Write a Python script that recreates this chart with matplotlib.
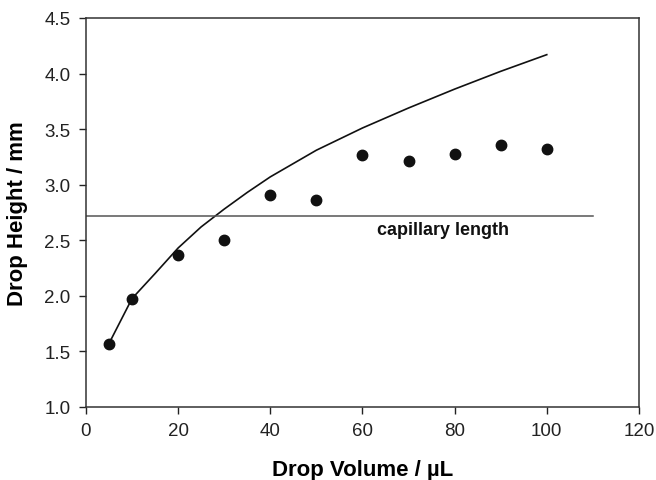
import matplotlib
matplotlib.use("Agg")
import matplotlib.pyplot as plt

plt.rcParams['font.family'] = ['Liberation Sans', 'DejaVu Sans']

volume = [5, 10, 20, 30, 40, 50, 60, 70, 80, 90, 100]
height_measured = [1.57, 1.975, 2.365, 2.50, 2.905, 2.86, 3.265, 3.21, 3.275, 3.355, 3.32]
model_volume = [5, 10, 15, 20, 25, 30, 35, 40, 45, 50, 60, 70, 80, 90, 100]
height_model = [1.57, 1.975, 2.20, 2.43, 2.62, 2.78, 2.93, 3.07, 3.19, 3.31, 3.51, 3.69, 3.86, 4.02, 4.17]
capillary_length = 2.72
capillary_x = [0, 110]

fig = plt.figure(figsize=(6.56, 4.81), dpi=100)
ax = fig.add_axes([0.131, 0.152, 0.843, 0.8085])

ax.plot(model_volume, height_model, color='#111111', lw=1.2)
ax.plot(volume, height_measured, 'o', color='#111111', ms=7.5, ls='none')
ax.plot(capillary_x, [capillary_length, capillary_length], color='#555555', lw=1.1)
ax.text(77.5, 2.60, 'capillary length', ha='center', va='center',
        fontsize=13, fontweight='bold', color='#111111')

ax.set_xlim(0, 120)
ax.set_ylim(1.0, 4.5)
ax.set_xticks([0, 20, 40, 60, 80, 100, 120])
ax.set_yticks([1.0, 1.5, 2.0, 2.5, 3.0, 3.5, 4.0, 4.5])
ax.set_yticklabels(['1.0', '1.5', '2.0', '2.5', '3.0', '3.5', '4.0', '4.5'])
ax.tick_params(direction='out', length=5, width=1, labelsize=13.5, colors='#222222', pad=6)
for s in ax.spines.values():
    s.set_color('#333333')
    s.set_linewidth(1.1)

ax.set_xlabel('Drop Volume / µL', fontsize=16, fontweight='bold', labelpad=14)
ax.set_ylabel('Drop Height / mm', fontsize=16, fontweight='bold', labelpad=12)

fig.savefig('out.png', dpi=100)
